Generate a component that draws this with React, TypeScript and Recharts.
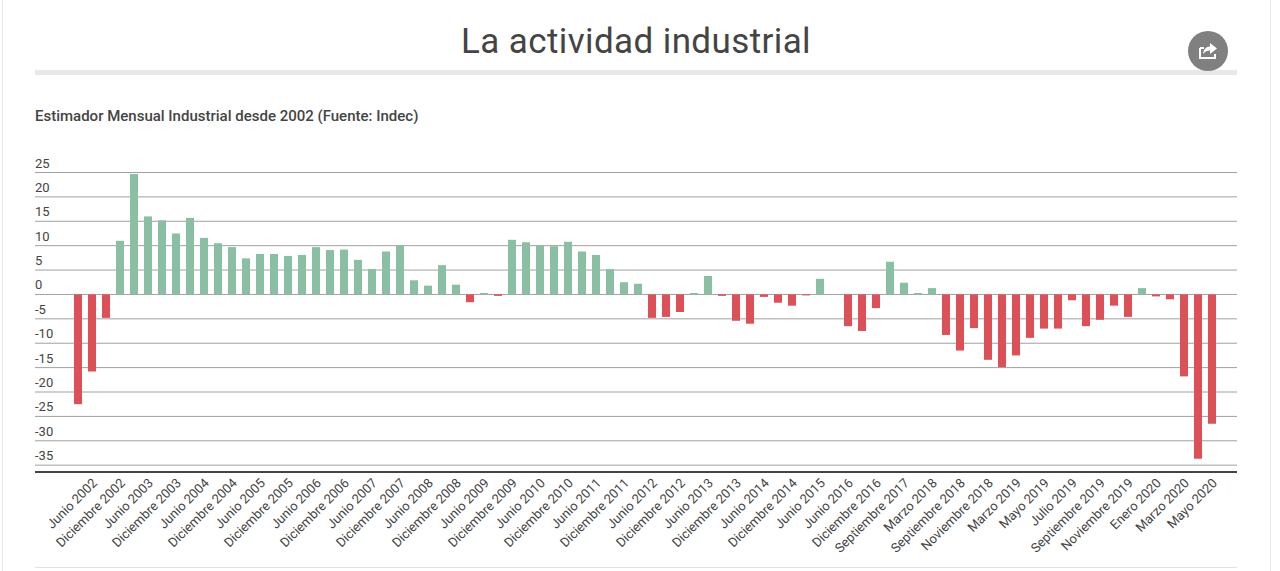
import { BarChart, Bar, XAxis, YAxis, CartesianGrid, Cell } from 'recharts'

const tickLabels = [
  'Junio 2002', 'Diciembre 2002', 'Junio 2003', 'Diciembre 2003', 'Junio 2004', 'Diciembre 2004',
  'Junio 2005', 'Diciembre 2005', 'Junio 2006', 'Diciembre 2006', 'Junio 2007', 'Diciembre 2007',
  'Junio 2008', 'Diciembre 2008', 'Junio 2009', 'Diciembre 2009', 'Junio 2010', 'Diciembre 2010',
  'Junio 2011', 'Diciembre 2011', 'Junio 2012', 'Diciembre 2012', 'Junio 2013', 'Diciembre 2013',
  'Junio 2014', 'Diciembre 2014', 'Junio 2015', 'Junio 2016', 'Diciembre 2016', 'Septiembre 2017',
  'Marzo 2018', 'Septiembre 2018', 'Noviembre 2018', 'Marzo 2019', 'Mayo 2019', 'Julio 2019',
  'Septiembre 2019', 'Noviembre 2019', 'Enero 2020', 'Marzo 2020', 'Mayo 2020',
]

const values = [
  -22.5, -15.8, -4.8, 11, 24.7, 16, 15.2, 12.5, 15.7, 11.6, 10.5, 9.7, 7.4, 8.3, 8.3, 7.9, 8.1,
  9.7, 9.1, 9.2, 7.1, 5.2, 8.8, 10, 2.9, 1.8, 6, 2, -1.6, 0.3, -0.3, 11.2, 10.7, 10, 9.9, 10.8,
  8.8, 8.1, 5.2, 2.5, 2.2, -4.8, -4.6, -3.6, 0.3, 3.8, -0.3, -5.4, -6, -0.5, -1.7, -2.3, -0.2,
  3.2, 0, -6.5, -7.5, -2.8, 6.7, 2.4, 0.3, 1.3, -8.3, -11.5, -6.9, -13.4, -14.9, -12.5, -8.9,
  -7, -7, -1.2, -6.5, -5.2, -2.3, -4.6, 1.3, -0.4, -1, -16.8, -33.7, -26.5,
]

const yTicks = [-35, -30, -25, -20, -15, -10, -5, 0, 5, 10, 15, 20, 25]

const chartData = values.map((value, i) => ({
  label: i % 2 === 0 ? tickLabels[i / 2] : '',
  value,
}))

const font = 'Roboto, sans-serif'
const textColor = '#444'

const XTick = ({ x, payload }: any) => {
  const text = payload.value
  if (!text) return null
  const ex = x + 17
  const ey = 481
  return (
    <text
      x={ex}
      y={ey}
      dy={4}
      textAnchor="end"
      transform={`rotate(-45 ${ex} ${ey})`}
      fontFamily={font}
      fontSize={13}
      fill={textColor}
    >
      {text}
    </text>
  )
}

const YTick = ({ y, payload }: any) => (
  <text x={35} y={y - 5} textAnchor="start" fontFamily={font} fontSize={13} fill={textColor}>
    {payload.value}
  </text>
)

export default function App() {
  return (
    <div style={{ position: 'absolute', left: 0, top: 0, width: 1280, height: 571, background: '#fff', overflow: 'hidden' }}>
      <div style={{ position: 'absolute', left: 2, top: 0, width: 1, height: 571, background: '#e8e8e8' }} />
      <div style={{ position: 'absolute', left: 1270, top: 0, width: 1, height: 571, background: '#e8e8e8' }} />
      <div
        style={{
          position: 'absolute', left: 0, width: 1272, top: 20, textAlign: 'center',
          fontFamily: font, fontWeight: 400, fontSize: 35, lineHeight: '44px', letterSpacing: 0.4, color: textColor,
        }}
      >
        La actividad industrial
      </div>
      <div style={{ position: 'absolute', left: 35, top: 70, width: 1202, height: 5, background: '#e8e8e8' }} />
      <div
        style={{
          position: 'absolute', left: 35, top: 107, fontFamily: font, fontWeight: 500, fontSize: 15,
          lineHeight: '18px', color: textColor, whiteSpace: 'nowrap',
        }}
      >
        Estimador Mensual Industrial desde 2002 (Fuente: Indec)
      </div>
      <div style={{ position: 'absolute', left: 35, top: 567, width: 1202, height: 1, background: '#e2e2e2' }} />

      <BarChart
        width={1280}
        height={571}
        data={chartData}
        margin={{ top: 172.5, right: 43, left: 34, bottom: 0 }}
        barCategoryGap={0}
        style={{ position: 'absolute', left: 0, top: 0 }}
      >
        <CartesianGrid vertical={false} stroke="#a0a0a0" strokeWidth={1} />
        <XAxis
          dataKey="label"
          interval={1}
          height={99}
          padding={{ left: 36, right: 18 }}
          tick={<XTick />}
          tickLine={false}
          axisLine={{ stroke: '#444', strokeWidth: 2 }}
        />
        <YAxis
          width={1}
          domain={[-36.4, 25]}
          ticks={yTicks}
          interval={0}
          tick={<YTick />}
          tickLine={false}
          axisLine={false}
        />
        <Bar dataKey="value" barSize={8} isAnimationActive={false}>
          {chartData.map((d, i) => (
            <Cell key={i} fill={d.value < 0 ? '#dc5157' : '#8bbfa3'} />
          ))}
        </Bar>
      </BarChart>

      <svg width={40} height={40} style={{ position: 'absolute', left: 1188, top: 31 }}>
        <circle cx={20} cy={20} r={20} fill="#808080" />
        <path d="M12 17v10h15v-4" fill="none" stroke="#fff" strokeWidth={2} />
        <path d="M12 17h4" fill="none" stroke="#fff" strokeWidth={2} />
        <path d="M22 12l7 5.500-7 5.500v-3.500c-3 0-5 1-7 3.500 .5-4 3-7.500 7-7.500z" fill="#fff" />
      </svg>
    </div>
  )
}
